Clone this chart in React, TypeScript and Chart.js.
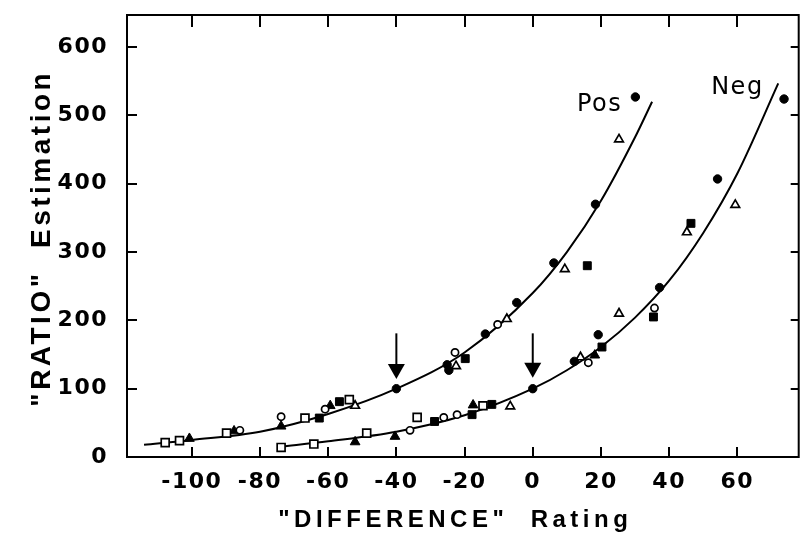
import React, { useEffect, useRef } from "react";
import { Chart, registerables } from "chart.js";

Chart.register(...registerables);

// Axis ticks
const xTickValues = [-100, -80, -60, -40, -20, 0, 20, 40, 60];
const yTickValues = [0, 100, 200, 300, 400, 500, 600];

// Markers (x = "DIFFERENCE" rating, y = "RATIO" estimation)
const filledCircleX = [-40, -25.1, -24.6, -13.9, -4.7, 6.2, 18.4, 30.1, 0, 12.2, 19.2, 37.2, 54.2, 73.7];
const filledCircleY = [100, 135, 127, 180, 226, 284, 370, 527, 100, 140, 179, 248, 407, 524];

const openCircleX = [-85.9, -73.8, -60.9, -22.8, -10.3, -36, -26.1, -22.2, 16.3, 35.7];
const openCircleY = [39, 59, 70, 153, 194, 39, 58, 62, 138, 218];

const openSquareX = [-107.8, -103.6, -89.8, -66.8, -53.8, -73.8, -64.2, -48.7, -33.9, -14.6];
const openSquareY = [21, 24, 35, 57, 84, 14, 19, 35, 58, 75];

const filledSquareX = [-62.6, -56.7, -19.8, 16, -28.8, -17.8, -12, 20.3, 35.4, 46.4];
const filledSquareY = [57, 81, 144, 280, 52, 62, 77, 161, 205, 342];

const filledTriangleX = [-100.7, -87.6, -73.8, -59.4, -52.1, -40.4, -17.5, 18.2];
const filledTriangleY = [27, 38, 45, 75, 22, 30, 76, 149];

const openTriangleX = [-52.1, -22.5, -7.6, 9.4, 25.3, -6.6, 14, 25.3, 45.2, 59.4];
const openTriangleY = [75, 133, 202, 275, 465, 74, 146, 210, 329, 369];

// Fitted curves
const posCurveX = [-114, -100, -80, -60, -40, -20, 0, 10, 20, 30, 35];
const posCurveY = [18, 25, 37, 63, 100, 153, 240, 300, 375, 468, 520];
const negCurveX = [-74, -60, -40, -20, 0, 10, 20, 30, 40, 50, 60, 72];
const negCurveY = [15, 23, 37, 61, 100, 127, 161, 204, 258, 328, 415, 547];

// Curve labels
const curveLabels = ["Pos", "Neg"];
const curveLabelX = [19.4, 59.8];
const curveLabelY = [506, 532];

// Arrows
const arrowX = [-40, 0];
const arrowTopY = [181, 181];
const arrowTipY = [114, 116];

const xTitle = "\"DIFFERENCE\"  Rating";
const yTitle = "\"RATIO\"  Estimation";

const toPts = (xs: number[], ys: number[]) => xs.map((x, i) => ({ x, y: ys[i] }));

const framePlugin = {
  id: "frameAndText",
  beforeDraw(chart: any) {
    chart.ctx.letterSpacing = "1.5px";
  },
  afterDatasetsDraw(chart: any) {
    const { ctx, chartArea, scales } = chart;
    const xs = scales.x;
    const ys = scales.y;
    ctx.save();
    ctx.letterSpacing = "0px";
    ctx.strokeStyle = "#000";
    ctx.fillStyle = "#000";
    ctx.lineWidth = 2;
    // frame
    ctx.strokeRect(chartArea.left, chartArea.top, chartArea.right - chartArea.left, chartArea.bottom - chartArea.top);
    // inward ticks
    ctx.beginPath();
    xTickValues.forEach((v) => {
      const px = Math.round(xs.getPixelForValue(v));
      ctx.moveTo(px, chartArea.bottom);
      ctx.lineTo(px, chartArea.bottom - 10);
      ctx.moveTo(px, chartArea.top);
      ctx.lineTo(px, chartArea.top + 12);
    });
    yTickValues.forEach((v) => {
      if (v === 0) return;
      const py = Math.round(ys.getPixelForValue(v));
      ctx.moveTo(chartArea.left, py);
      ctx.lineTo(chartArea.left + 10, py);
      ctx.moveTo(chartArea.right, py);
      ctx.lineTo(chartArea.right - 8, py);
    });
    ctx.stroke();

    // arrows
    arrowX.forEach((v, i) => {
      const px = xs.getPixelForValue(v);
      const top = ys.getPixelForValue(arrowTopY[i]);
      const tip = ys.getPixelForValue(arrowTipY[i]);
      const headLen = 15;
      ctx.lineWidth = 2;
      ctx.beginPath();
      ctx.moveTo(px, top);
      ctx.lineTo(px, tip - headLen + 1);
      ctx.stroke();
      ctx.beginPath();
      ctx.moveTo(px - 8.5, tip - headLen);
      ctx.lineTo(px + 8.5, tip - headLen);
      ctx.lineTo(px, tip);
      ctx.closePath();
      ctx.fill();
    });

    // curve labels
    ctx.font = "24px 'DejaVu Sans'";
    ctx.letterSpacing = "1.5px";
    ctx.textAlign = "left";
    ctx.textBaseline = "alphabetic";
    curveLabels.forEach((t, i) => {
      const w = ctx.measureText(t).width - 1.5;
      ctx.fillText(t, xs.getPixelForValue(curveLabelX[i]) - w / 2, ys.getPixelForValue(curveLabelY[i]));
    });

    // axis titles
    ctx.font = "bold 24px 'Liberation Sans'";
    ctx.letterSpacing = "4.5px";
    let w = ctx.measureText(xTitle).width - 4.5;
    ctx.fillText(xTitle, 453 - w / 2, 527);

    ctx.font = "bold 28px 'Liberation Sans'";
    ctx.letterSpacing = "3.5px";
    w = ctx.measureText(yTitle).width - 3.5;
    ctx.translate(50, 240);
    ctx.rotate(-Math.PI / 2);
    ctx.fillText(yTitle, -w / 2, 0);
    ctx.restore();
  },
};

export default function App() {
  const ref = useRef<HTMLCanvasElement | null>(null);
  useEffect(() => {
    if (!ref.current) return;
    const markerCommon = { showLine: false, pointBorderColor: "#000" };
    const chart = new Chart(ref.current, {
      type: "scatter",
      data: {
        datasets: [
          { ...markerCommon, label: "filled circle", data: toPts(filledCircleX, filledCircleY), pointStyle: "circle", pointRadius: 4.2, pointBackgroundColor: "#000", pointBorderWidth: 1 },
          { ...markerCommon, label: "open circle", data: toPts(openCircleX, openCircleY), pointStyle: "circle", pointRadius: 3.6, pointBackgroundColor: "#fff", pointBorderWidth: 1.7 },
          { ...markerCommon, label: "open square", data: toPts(openSquareX, openSquareY), pointStyle: "rect", pointRadius: 5.6, pointBackgroundColor: "#fff", pointBorderWidth: 1.7 },
          { ...markerCommon, label: "filled square", data: toPts(filledSquareX, filledSquareY), pointStyle: "rect", pointRadius: 5.6, pointBackgroundColor: "#000", pointBorderWidth: 1 },
          { ...markerCommon, label: "filled triangle", data: toPts(filledTriangleX, filledTriangleY), pointStyle: "triangle", pointRadius: 5.6, pointBackgroundColor: "#000", pointBorderWidth: 1 },
          { ...markerCommon, label: "open triangle", data: toPts(openTriangleX, openTriangleY), pointStyle: "triangle", pointRadius: 5, pointBackgroundColor: "#fff", pointBorderWidth: 1.7 },
          { label: "Pos", data: toPts(posCurveX, posCurveY), showLine: true, pointRadius: 0, borderColor: "#000", borderWidth: 2, cubicInterpolationMode: "monotone" as const },
          { label: "Neg", data: toPts(negCurveX, negCurveY), showLine: true, pointRadius: 0, borderColor: "#000", borderWidth: 2, cubicInterpolationMode: "monotone" as const },
        ],
      },
      options: {
        responsive: false,
        animation: false,
        events: [],
        layout: { padding: { left: 0, top: 15, right: 4, bottom: 0 } },
        plugins: { legend: { display: false }, tooltip: { enabled: false }, title: { display: false } },
        scales: {
          x: {
            type: "linear",
            min: -119,
            max: 78,
            grid: { display: false },
            border: { display: false },
            afterBuildTicks: (s: any) => { s.ticks = xTickValues.map((v) => ({ value: v })); },
            afterFit: (s: any) => { s.height = 83; s.paddingLeft = 0; s.paddingRight = 0; },
            ticks: { color: "#000", padding: 4, maxRotation: 0, autoSkip: false, font: { family: "'DejaVu Sans'", size: 22, weight: "bold" } },
          },
          y: {
            type: "linear",
            min: 0,
            max: 647,
            grid: { display: false },
            border: { display: false },
            afterBuildTicks: (s: any) => { s.ticks = yTickValues.map((v) => ({ value: v })); },
            afterFit: (s: any) => { s.width = 127; s.paddingTop = 0; s.paddingBottom = 0; },
            ticks: { color: "#000", padding: 11, autoSkip: false, font: { family: "'DejaVu Sans'", size: 22, weight: "bold" } },
          },
        },
      },
      plugins: [framePlugin],
    });
    return () => chart.destroy();
  }, []);
  return (
    <div style={{ position: "fixed", left: 0, top: 0, width: 806, height: 540, background: "#fff" }}>
      <canvas ref={ref} width={806} height={540} style={{ width: 806, height: 540, display: "block" }} />
    </div>
  );
}
